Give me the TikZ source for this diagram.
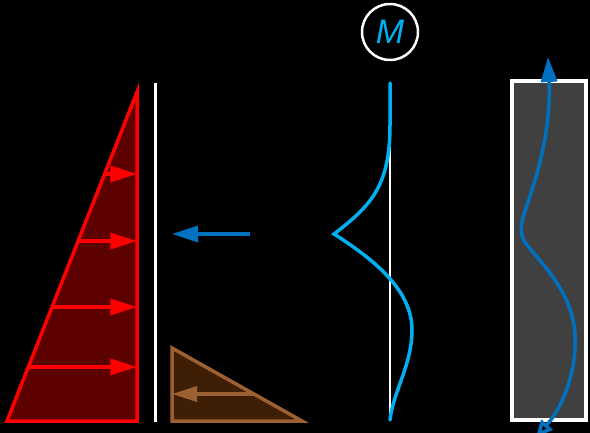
\documentclass[tikz,border=0pt]{standalone}
\usepackage{fontspec}
\setsansfont{Liberation Sans}
\usepackage{tikz}
\usetikzlibrary{arrows.meta}
\definecolor{loadRed}{RGB}{255, 0, 0}
\definecolor{loadFill}{RGB}{92, 0, 0}
\definecolor{soilEdge}{RGB}{156, 96, 50}
\definecolor{soilFill}{RGB}{62, 30, 4}
\definecolor{pushBlue}{RGB}{0, 112, 192}
\definecolor{momCyan}{RGB}{0, 176, 240}
\definecolor{wallGray}{RGB}{64, 64, 64}

\begin{document}
\begin{tikzpicture}[x=0.03cm, y=-0.03cm,
  thickline/.style={line width=0.105cm},
  loadarrow/.style={thickline, loadRed, -{Triangle[length=0.8cm, width=0.48cm]}},
  soilarrow/.style={thickline, soilEdge, -{Triangle[length=0.75cm, width=0.45cm]}}]
  % background and frame
  \fill[black] (0,0) rectangle (590,433);
  \useasboundingbox (0,0) rectangle (590,433);

  % Triangular load on the left
  \coordinate (rtop) at (137,92);
  \coordinate (rbl) at (7,421);
  \coordinate (rbr) at (137,421);
  \filldraw[thickline, draw=loadRed, fill=loadFill] (rbl) -- (rbr) -- (rtop) -- cycle;
  \coordinate (q1s) at (106,174);  \coordinate (q1e) at (137,174);
  \coordinate (q2s) at (78,241);   \coordinate (q2e) at (137,241);
  \coordinate (q3s) at (53,307);   \coordinate (q3e) at (137,307);
  \coordinate (q4s) at (29,367);   \coordinate (q4e) at (137,367);
  \draw[loadarrow] (q1s) -- (q1e);
  \draw[loadarrow] (q2s) -- (q2e);
  \draw[loadarrow] (q3s) -- (q3e);
  \draw[loadarrow] (q4s) -- (q4e);

  % Wall
  \coordinate (wtop) at (155.5,83);
  \coordinate (wbot) at (155.5,422);
  \draw[thickline, white] (wtop) -- (wbot);

  % Passive soil wedge
  \coordinate (stop) at (172,348);
  \coordinate (sbl) at (172,421);
  \coordinate (sbr) at (302,421);
  \filldraw[thickline, draw=soilEdge, fill=soilFill] (stop) -- (sbl) -- (sbr) -- cycle;
  \coordinate (p1s) at (254,394);  \coordinate (p1e) at (172,394);
  \draw[soilarrow] (p1s) -- (p1e);

  % Resultant push
  \coordinate (hs) at (250,234);
  \coordinate (he) at (172,234);
  \draw[thickline, pushBlue, -{Triangle[length=0.78cm, width=0.48cm]}] (hs) -- (he);

  % Moment diagram
  \node[circle, draw=white, line width=0.075cm, minimum size=1.68cm, inner sep=0pt,
        text=momCyan, font=\sffamily\itshape\fontsize{29}{32}\selectfont] (moment) at (390,32) {M};
  \coordinate (mtop) at (390,83);
  \coordinate (mbot) at (390,421);
  \draw[line width=0.08cm, white] (mtop) -- (mbot);
  \coordinate (mcusp) at (334,234);
  \coordinate (mmax) at (412,330);
  \draw[thickline, momCyan, line cap=round] (mtop) -- (390,125)
    .. controls (390,185) and (372,205) .. (mcusp)
    .. controls (378,262) and (412,292) .. (mmax)
    .. controls (412,365) and (393,392) .. (390,420);

  % Deformed section
  \coordinate (secA) at (512,81);
  \coordinate (secB) at (586,420);
  \filldraw[thickline, draw=white, fill=wallGray] (secA) rectangle (secB);
  \coordinate (fbot) at (536,437);
  \coordinate (fmid) at (575,335);
  \coordinate (fknee) at (527,245);
  \coordinate (ftop) at (548,57);
  \draw[thickline, pushBlue, {Triangle[open, length=0.5cm, width=0.45cm]}-{Triangle[length=0.75cm, width=0.48cm]}]
    (fbot) .. controls (562,408) and (577,372) .. (fmid)
    .. controls (573,292) and (540,262) .. (fknee)
    .. controls (519,236) and (520,225) .. (526,208)
    .. controls (540,168) and (551,125) .. (ftop);
\end{tikzpicture}
\end{document}
